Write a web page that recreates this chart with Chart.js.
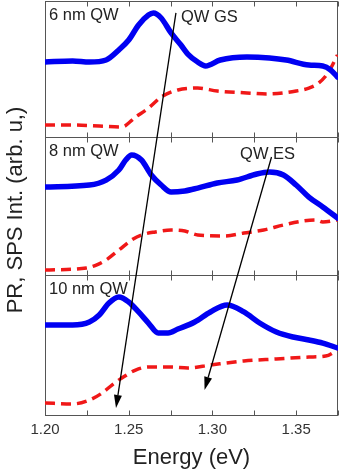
<!DOCTYPE html>
<html><head><meta charset="utf-8">
<script src="https://cdn.jsdelivr.net/npm/chart.js@4"></script>
<style>html,body{margin:0;padding:0;background:#fff;}</style>
</head><body>
<canvas id="c" width="344" height="472"></canvas>
<script>
// ---- data ----
const panelLabels = ['6 nm QW', '8 nm QW', '10 nm QW'];
const xTickLabels = ['1.20', '1.25', '1.30', '1.35'];
const yTitle = 'PR, SPS Int. (arb. u,)';
const xTitle = 'Energy (eV)';

// 6 nm QW
const energyPR6 = [1.200,1.2165,1.2265,1.2365,1.2441,1.2500,1.2559,1.2618,1.2647,1.2694,1.2753,1.2812,1.2853,1.2912,1.2959,1.3047,1.3206,1.3341,1.3441,1.3576,1.3659,1.3706,1.3747];
const pr6       = [5.51,5.59,5.51,5.66,6.40,7.13,8.24,8.97,9.12,8.75,7.65,6.76,6.10,5.51,5.22,5.66,5.88,5.81,5.66,5.29,5.22,4.93,4.41];
const energySPS6 = [1.200,1.2165,1.2324,1.2459,1.2541,1.2618,1.2694,1.2794,1.2912,1.3029,1.3206,1.3324,1.3500,1.3576,1.3635,1.3694,1.3747];
const sps6       = [0.88,0.88,0.81,0.74,1.47,2.13,2.94,3.46,3.60,3.38,3.24,3.16,3.38,3.60,3.97,4.78,6.03];

// 8 nm QW
const energyPR8 = [1.200,1.2265,1.2365,1.2441,1.2482,1.2518,1.2576,1.2635,1.2694,1.2753,1.2835,1.2912,1.3029,1.3147,1.3265,1.3341,1.3424,1.3500,1.3576,1.3659,1.3747];
const pr8       = [6.38,6.52,6.88,7.61,8.33,8.70,8.33,7.25,6.52,6.01,6.09,6.30,6.67,6.88,7.32,7.46,7.25,6.52,5.65,4.93,4.13];
const energySPS8 = [1.200,1.2247,1.2306,1.2365,1.2441,1.2518,1.2576,1.2659,1.2753,1.2835,1.2912,1.3071,1.3188,1.3306,1.3424,1.3541,1.3618,1.3659,1.3747];
const sps8       = [0.36,0.51,0.72,1.09,1.81,2.54,2.90,3.12,3.26,3.19,2.90,2.83,3.04,3.26,3.62,3.91,3.99,3.84,3.99];

// 10 nm QW
const energyPR10 = [1.200,1.2165,1.2265,1.2324,1.2382,1.2441,1.2500,1.2559,1.2618,1.2676,1.2735,1.2794,1.2894,1.2988,1.3088,1.3188,1.3282,1.3382,1.3482,1.3576,1.3659,1.3747];
const pr10       = [6.43,6.43,6.64,7.14,8.00,8.43,8.07,7.36,6.57,5.86,5.86,6.14,6.64,7.36,7.86,7.36,6.57,5.93,5.57,5.36,5.14,4.79];
const energySPS10 = [1.200,1.2165,1.2265,1.2341,1.2400,1.2459,1.2541,1.2618,1.2753,1.2853,1.2988,1.3188,1.3382,1.3576,1.3676,1.3747];
const sps10       = [0.86,0.79,1.07,1.57,2.14,2.64,3.21,3.43,3.43,3.36,3.57,3.86,4.00,4.14,4.21,4.64];

// arrow annotations
const arrowLabels = ['QW GS', 'QW ES'];
const arrowLabelEnergy = [1.2812, 1.3165];
const arrowLabelValue = [8.79, 8.77];
const arrowLabelPanel = ['y1', 'y2'];
const arrowStartEnergy = [1.2782, 1.3353];
const arrowStartValue = [9.12, 8.55];
const arrowStartPanel = ['y1', 'y2'];
const arrowEndEnergy = [1.2424, 1.2953];
const arrowEndValue = [0.5, 1.79];
const arrowEndPanel = ['y3', 'y3'];

const pts = (xs, ys) => xs.map((x, i) => ({x: x, y: ys[i]}));

const FONT = 'Arial, "Liberation Sans", sans-serif';
const BLUE = '#0000f2';
const RED = '#f01818';

function prSet(xs, ys, axis) {
  return {data: pts(xs, ys), yAxisID: axis, borderColor: BLUE, borderWidth: 5.5, pointRadius: 0,
    cubicInterpolationMode: 'monotone', borderJoinStyle: 'round', borderCapStyle: 'round', fill: false};
}
function spsSet(xs, ys, axis) {
  return {data: pts(xs, ys), yAxisID: axis, borderColor: RED, borderWidth: 3.5, pointRadius: 0,
    borderDash: [10, 6], cubicInterpolationMode: 'monotone', borderCapStyle: 'butt', fill: false};
}

const panelAxis = (w, sw) => ({
  type: 'linear', position: 'left', stack: 'panels', stackWeight: sw, weight: w,
  min: 0, max: 10, display: true,
  ticks: {display: false}, grid: {display: false, drawTicks: false}, border: {display: false}
});

const framePlugin = {
  id: 'frame',
  beforeDatasetsDraw(chart) {
    const {ctx, chartArea, scales} = chart;
    const xs = scales.x;
    ctx.save();
    ctx.strokeStyle = '#555';
    ctx.lineWidth = 1;
    ['y1', 'y2', 'y3'].forEach(id => {
      const s = scales[id];
      const t = Math.round(s.top) + 0.5, b = Math.round(s.bottom) + 0.5;
      ctx.strokeRect(Math.round(chartArea.left) + 0.5, t, Math.round(chartArea.right - chartArea.left) - 1, b - t);
      ctx.beginPath();
      xs.ticks.forEach(tk => {
        const px = Math.round(xs.getPixelForValue(tk.value)) + 0.5;
        ctx.moveTo(px, t); ctx.lineTo(px, t + 5);
        ctx.moveTo(px, b); ctx.lineTo(px, b - 5);
      });
      ctx.stroke();
    });
    ctx.restore();
  },
  afterDatasetsDraw(chart) {
    const {ctx, chartArea, scales} = chart;
    const xs = scales.x;
    ctx.save();
    ctx.strokeStyle = '#000';
    ctx.fillStyle = '#000';
    ctx.lineWidth = 1.3;
    arrowLabels.forEach((lab, i) => {
      const x0 = xs.getPixelForValue(arrowStartEnergy[i]);
      const y0 = scales[arrowStartPanel[i]].getPixelForValue(arrowStartValue[i]);
      const x1 = xs.getPixelForValue(arrowEndEnergy[i]);
      const y1 = scales[arrowEndPanel[i]].getPixelForValue(arrowEndValue[i]);
      const ang = Math.atan2(y1 - y0, x1 - x0);
      const hl = 13, hw = 4;
      const bx = x1 - hl * Math.cos(ang), by = y1 - hl * Math.sin(ang);
      ctx.beginPath(); ctx.moveTo(x0, y0); ctx.lineTo(bx, by); ctx.stroke();
      ctx.beginPath();
      ctx.moveTo(x1, y1);
      ctx.lineTo(bx + hw * Math.sin(ang), by - hw * Math.cos(ang));
      ctx.lineTo(bx - hw * Math.sin(ang), by + hw * Math.cos(ang));
      ctx.closePath(); ctx.fill();
    });
    ctx.fillStyle = '#222';
    ctx.font = '16.5px ' + FONT;
    ctx.textAlign = 'left';
    ctx.textBaseline = 'middle';
    arrowLabels.forEach((lab, i) => {
      ctx.fillText(lab, xs.getPixelForValue(arrowLabelEnergy[i]), scales[arrowLabelPanel[i]].getPixelForValue(arrowLabelValue[i]));
    });
    ctx.textBaseline = 'top';
    ['y1', 'y2', 'y3'].forEach((id, i) => {
      ctx.fillText(panelLabels[i], chartArea.left + 4, scales[id].top + 6);
    });
    ctx.translate(16, (chartArea.top + chartArea.bottom) / 2 + 2);
    ctx.rotate(-Math.PI / 2);
    ctx.textAlign = 'center';
    ctx.textBaseline = 'middle';
    ctx.font = '22px ' + FONT;
    ctx.fillText(yTitle, 0, 0);
    ctx.restore();
  }
};

new Chart(document.getElementById('c'), {
  type: 'line',
  data: {
    datasets: [
      prSet(energyPR6, pr6, 'y1'), spsSet(energySPS6, sps6, 'y1'),
      prSet(energyPR8, pr8, 'y2'), spsSet(energySPS8, sps8, 'y2'),
      prSet(energyPR10, pr10, 'y3'), spsSet(energySPS10, sps10, 'y3')
    ]
  },
  options: {
    responsive: false,
    animation: false,
    devicePixelRatio: 1,
    layout: {padding: {left: 45, right: 1, top: 1, bottom: 0}},
    plugins: {legend: {display: false}, tooltip: {enabled: false}},
    scales: {
      x: {
        type: 'linear', min: 1.2, max: 1.375,
        grid: {display: false, drawTicks: false}, border: {display: false},
        ticks: {
          stepSize: 0.025, autoSkip: false, maxRotation: 0, padding: 6,
          color: '#333', font: {family: FONT, size: 15},
          callback: (v) => { const s = Number(v).toFixed(2); return xTickLabels.includes(s) && Math.abs(Number(s) - v) < 1e-6 ? s : ''; }
        },
        title: {display: true, text: xTitle, color: '#222', font: {family: FONT, size: 22, lineHeight: 1.0}, padding: {top: 1.5, bottom: 3.5}}
      },
      y1: panelAxis(3, 136),
      y2: panelAxis(2, 138),
      y3: panelAxis(1, 140)
    }
  },
  plugins: [framePlugin]
});
</script>
</body></html>
